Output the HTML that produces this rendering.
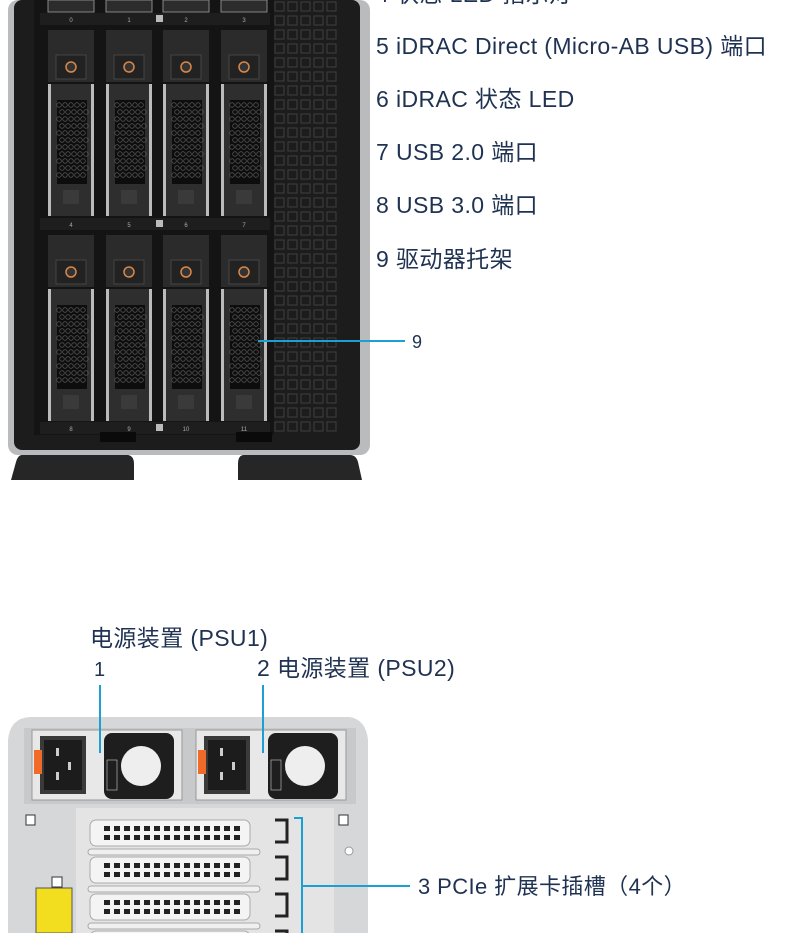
<!DOCTYPE html>
<html><head><meta charset="utf-8"><style>
html,body{margin:0;padding:0;background:#fff;width:790px;height:933px;overflow:hidden}
svg{display:block}
text{font-family:"Liberation Sans","Noto Sans CJK SC",sans-serif;fill:#1f3252}
.lb{font-size:23px;letter-spacing:0.4px}
</style></head><body>
<svg id="s" width="790" height="933" viewBox="0 0 790 933" xmlns="http://www.w3.org/2000/svg">
<rect x="8" y="0" width="362" height="455" rx="10" fill="#b9bbbd"/>
<rect x="14" y="0" width="346" height="450" rx="8" fill="#1c1c1c"/>
<rect x="34" y="0" width="240" height="435" fill="#141414"/>
<g id="front"></g>
<path d="M22 455 L128 455 Q134 456 134 464 L134 480 L11 480 L16 462 Q18 455 22 455 Z" fill="#262626"/>
<path d="M244 455 L350 455 Q356 455 358 462 L362 480 L238 480 L238 464 Q238 455 244 455 Z" fill="#262626"/>
<rect x="100" y="432" width="36" height="10" fill="#0a0a0a"/>
<rect x="236" y="432" width="36" height="10" fill="#0a0a0a"/>
<text class="lb" x="376" y="2">4 状态 LED 指示灯</text>
<text class="lb" x="376" y="54">5 iDRAC Direct (Micro-AB USB) 端口</text>
<text class="lb" x="376" y="107">6 iDRAC 状态 LED</text>
<text class="lb" x="376" y="160">7 USB 2.0 端口</text>
<text class="lb" x="376" y="213">8 USB 3.0 端口</text>
<text class="lb" x="376" y="267">9 驱动器托架</text>
<line x1="258" y1="341" x2="405" y2="341" stroke="#1ba0d4" stroke-width="2"/>
<text x="412" y="348" font-size="18">9</text>

<text class="lb" x="90" y="646">电源装置 (PSU1)</text>
<text x="94" y="676" font-size="20">1</text>
<text class="lb" x="257" y="676">2 电源装置 (PSU2)</text>
<path d="M8 933 L8 740 Q10 718 30 717 L350 717 Q366 720 368 740 L368 933 Z" fill="#d6d7d8"/>
<rect x="24" y="728" width="332" height="76" fill="#c8c9ca"/>
<g id="rear"></g>
<line x1="100" y1="685" x2="100" y2="753" stroke="#1ba0d4" stroke-width="2"/>
<line x1="263" y1="685" x2="263" y2="753" stroke="#1ba0d4" stroke-width="2"/>
<polyline points="294,818 302,818 302,933" fill="none" stroke="#1ba0d4" stroke-width="2"/>
<line x1="302" y1="886" x2="410" y2="886" stroke="#1ba0d4" stroke-width="2"/>
<text class="lb" x="418" y="894" style="font-size:22px">3 PCIe 扩展卡插槽（4个）</text>
</svg>
<script>
var NS="http://www.w3.org/2000/svg";
function el(p,t,a){var e=document.createElementNS(NS,t);for(var k in a)e.setAttribute(k,a[k]);p.appendChild(e);return e;}
var f=document.getElementById('front');
for(var gy=2;gy<430;gy+=14)for(var gx=275;gx<340;gx+=13)el(f,'rect',{x:gx,y:gy,width:9,height:9,fill:'none',stroke:'#3a3a3a','stroke-width':1.2});
var cols=[48,106,163,221];
cols.forEach(function(x){el(f,'rect',{x:x,y:0,width:46,height:12,fill:'#2c2c2c',stroke:'#888','stroke-width':1});});
var rows=[30,235];
var strips=[[13,['0','1','2','3']],[218,['4','5','6','7']],[422,['8','9','10','11']]];
strips.forEach(function(s){el(f,'rect',{x:40,y:s[0],width:230,height:12,fill:'#1e1e1e'});
 s[1].forEach(function(l,i){var t=el(f,'text',{x:cols[i]+23,y:s[0]+9,'font-size':6,'text-anchor':'middle',style:'fill:#aaa'});t.textContent=l;});
 el(f,'rect',{x:156,y:s[0]+2,width:7,height:7,fill:'#bbb'});});
rows.forEach(function(y){cols.forEach(function(x){
 el(f,'rect',{x:x,y:y,width:46,height:52,fill:'#2b2b2b'});
 el(f,'rect',{x:x+8,y:y+25,width:30,height:24,fill:'#222',stroke:'#444'});
 el(f,'circle',{cx:x+23,cy:y+37,r:5,fill:'#333',stroke:'#d9884a','stroke-width':1.5});
 el(f,'rect',{x:x,y:y+54,width:46,height:132,fill:'#2e2e2e'});
 el(f,'rect',{x:x,y:y+54,width:3,height:132,fill:'#bbb'});
 el(f,'rect',{x:x+43,y:y+54,width:3,height:132,fill:'#bbb'});
 el(f,'rect',{x:x+9,y:y+70,width:30,height:84,fill:'#0d0d0d'});
 for(var hy=y+75;hy<y+150;hy+=7)for(var hx=x+11;hx<x+37;hx+=6)el(f,'circle',{cx:hx+(Math.floor((hy-y)/7)%2)*3,cy:hy,r:2.3,fill:'none',stroke:'#555','stroke-width':0.8});
 el(f,'rect',{x:x+15,y:y+160,width:16,height:14,fill:'#3a3a3a'});
});});
var r=document.getElementById('rear');
[32,196].forEach(function(x){
 el(r,'rect',{x:x,y:730,width:150,height:70,fill:'#e8e8e8',stroke:'#999'});
 el(r,'rect',{x:x+8,y:736,width:46,height:58,fill:'#3a3a3a'});
 el(r,'rect',{x:x+12,y:740,width:38,height:50,fill:'#1c1c1c'});
 el(r,'rect',{x:x+2,y:750,width:8,height:24,fill:'#f06a2a'});
 el(r,'rect',{x:x+24,y:748,width:3,height:8,fill:'#ccc'});el(r,'rect',{x:x+24,y:772,width:3,height:8,fill:'#ccc'});el(r,'rect',{x:x+36,y:762,width:3,height:8,fill:'#ccc'});
 el(r,'rect',{x:x+72,y:733,width:70,height:66,rx:8,fill:'#1e1e1e'});
 el(r,'circle',{cx:x+109,cy:766,r:20,fill:'#eee'});
 el(r,'rect',{x:x+75,y:760,width:10,height:30,fill:'#1e1e1e',stroke:'#ccc','stroke-width':0.6});
});
el(r,'rect',{x:76,y:808,width:258,height:125,fill:'#e4e4e4'});
for(var i=0;i<4;i++){var y=820+i*37;
 el(r,'rect',{x:90,y:y,width:160,height:26,rx:6,fill:'#f4f4f4',stroke:'#aaa'});
 for(var j=0;j<14;j++){el(r,'rect',{x:104+j*10,y:y+6,width:6,height:5,fill:'#222'});el(r,'rect',{x:104+j*10,y:y+15,width:6,height:5,fill:'#222'});}
 el(r,'rect',{x:88,y:y+29,width:172,height:6,rx:3,fill:'#f0f0f0',stroke:'#aaa'});
 el(r,'path',{d:'M275 '+(y)+' h12 v22 h-12',fill:'none',stroke:'#222','stroke-width':3});
}
el(r,'rect',{x:36,y:888,width:36,height:45,fill:'#f2de1e',stroke:'#555'});
el(r,'rect',{x:52,y:877,width:10,height:10,fill:'#fff',stroke:'#333'});
el(r,'rect',{x:26,y:815,width:9,height:10,fill:'#fff',stroke:'#333'});
el(r,'rect',{x:339,y:815,width:9,height:10,fill:'#fff',stroke:'#333'});
el(r,'circle',{cx:349,cy:851,r:4,fill:'#fff',stroke:'#999'});
</script>
</body></html>
